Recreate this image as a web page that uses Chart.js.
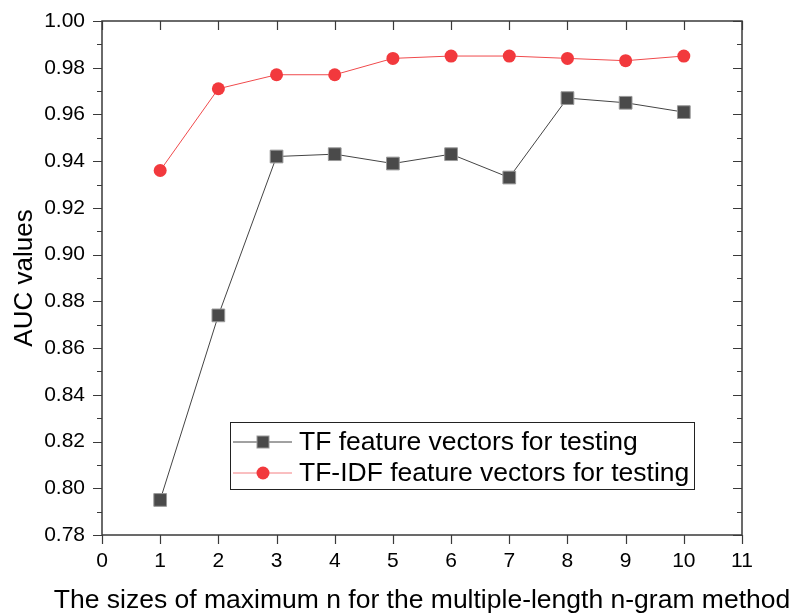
<!DOCTYPE html>
<html lang="en">
<head>
    <meta charset="UTF-8">
    <title>AUC values</title>
    <script src="https://cdn.jsdelivr.net/npm/chart.js"></script>
    <style>
        body { margin: 0; background: #fff; }
        #wrap { width: 795px; height: 616px; }
    </style>
</head>
<body>
    <div id="wrap"><canvas id="auc"></canvas></div>

    <script>
        // values
        var nSizes = [1, 2, 3, 4, 5, 6, 7, 8, 9, 10]
        var tfAuc = [0.795, 0.874, 0.942, 0.943, 0.939, 0.943, 0.933, 0.967, 0.965, 0.961]
        var tfidfAuc = [0.936, 0.971, 0.977, 0.977, 0.984, 0.985, 0.985, 0.984, 0.983, 0.985]
        var seriesNames = ['TF feature vectors for testing', 'TF-IDF feature vectors for testing']
        var xTitle = 'The sizes of maximum n for the multiple-length n-gram method'
        var xTicks = [0, 1, 2, 3, 4, 5, 6, 7, 8, 9, 10, 11]
        var yTicks = [0.78, 0.80, 0.82, 0.84, 0.86, 0.88, 0.90, 0.92, 0.94, 0.96, 0.98, 1.00]

        var FONT = '"Liberation Sans", Arial, sans-serif'

        // frame, inward/outward ticks, x title and the boxed legend, drawn Origin-style
        var framePlugin = {
            id: 'frame',
            afterDraw: function(chart) {
                var ctx = chart.ctx
                var xs = chart.scales.x, ys = chart.scales.y
                var a = chart.chartArea
                ctx.save()
                ctx.strokeStyle = '#3a3a3a'
                ctx.lineWidth = 1.5
                ctx.strokeRect(a.left, a.top, a.right - a.left, a.bottom - a.top)
                ctx.lineWidth = 1.2
                ctx.beginPath()
                xTicks.forEach(function(v) {
                    var px = Math.round(xs.getPixelForValue(v)) + 0.5
                    ctx.moveTo(px, a.bottom); ctx.lineTo(px, a.bottom + 9)
                    ctx.moveTo(px, a.top); ctx.lineTo(px, a.top + 9)
                })
                for (var i = 0; i < yTicks.length; i++) {
                    var v = yTicks[i]
                    var py = Math.round(ys.getPixelForValue(v)) + 0.5
                    ctx.moveTo(a.left, py); ctx.lineTo(a.left - 9, py)
                    ctx.moveTo(a.right, py); ctx.lineTo(a.right - 9, py)
                    if (i < yTicks.length - 1) {
                        var pm = Math.round(ys.getPixelForValue((v + yTicks[i + 1]) / 2)) + 0.5
                        ctx.moveTo(a.left, pm); ctx.lineTo(a.left - 5, pm)
                        ctx.moveTo(a.right, pm); ctx.lineTo(a.right - 5, pm)
                    }
                }
                ctx.stroke()

                // x title is wider than the plot, so it is drawn here unclipped
                ctx.fillStyle = '#000'
                ctx.font = '26.5px ' + FONT
                ctx.textAlign = 'center'
                ctx.textBaseline = 'middle'
                ctx.fillText(xTitle, 422, 601)

                // legend box
                var lx = 230, ly = 422, lw = 464, lh = 67
                ctx.fillStyle = '#fff'
                ctx.fillRect(lx, ly, lw, lh)
                ctx.strokeStyle = '#222'
                ctx.lineWidth = 1
                ctx.strokeRect(lx + 0.5, ly + 0.5, lw, lh)
                ctx.textAlign = 'left'
                chart.data.datasets.forEach(function(ds, k) {
                    var cy = ly + 20 + k * 31
                    ctx.strokeStyle = k === 0 ? '#444' : '#f47f81'
                    ctx.lineWidth = 1
                    ctx.beginPath(); ctx.moveTo(233, cy); ctx.lineTo(292, cy); ctx.stroke()
                    ctx.fillStyle = ds.pointBackgroundColor
                    ctx.strokeStyle = ds.pointBorderColor
                    if (ds.pointStyle === 'rect') {
                        ctx.fillRect(257, cy - 6, 12, 12)
                        ctx.strokeRect(257, cy - 6, 12, 12)
                    } else {
                        ctx.beginPath(); ctx.arc(263, cy, 6.5, 0, Math.PI * 2); ctx.fill()
                    }
                    ctx.fillStyle = '#000'
                    ctx.fillText(seriesNames[k], 299, cy + 1)
                })
                ctx.restore()
            }
        }

        var ctx = document.getElementById('auc').getContext('2d')
        var myChart = new Chart(ctx, {
            type: 'line',
            data: {
                labels: nSizes,
                datasets: [{
                    label: seriesNames[0],
                    data: nSizes.map(function(n, i) { return { x: n, y: tfAuc[i] } }),
                    borderColor: '#444',
                    borderWidth: 1,
                    pointStyle: 'rect',
                    pointRadius: 9,
                    pointBackgroundColor: '#4a4a4a',
                    pointBorderColor: '#999',
                    pointBorderWidth: 1
                }, {
                    label: seriesNames[1],
                    data: nSizes.map(function(n, i) { return { x: n, y: tfidfAuc[i] } }),
                    borderColor: '#f04a4c',
                    borderWidth: 1,
                    pointStyle: 'circle',
                    pointRadius: 6.5,
                    pointBackgroundColor: '#f2393d',
                    pointBorderColor: '#f2393d',
                    pointBorderWidth: 0
                }]
            },
            options: {
                responsive: true,
                maintainAspectRatio: false,
                animation: false,
                layout: { padding: { top: 21, right: 53, left: 0, bottom: 0 } },
                plugins: { legend: { display: false }, tooltip: { enabled: false } },
                scales: {
                    x: {
                        type: 'linear',
                        min: 0, max: 11,
                        afterFit: function(s) { s.height = 81; s.paddingLeft = 0; s.paddingRight = 0 },
                        afterBuildTicks: function(s) { s.ticks = xTicks.map(function(v) { return { value: v } }) },
                        grid: { display: false, drawTicks: false },
                        border: { display: false },
                        ticks: { color: '#000', font: { family: FONT, size: 21 }, padding: 14 }
                    },
                    y: {
                        min: 0.78, max: 1.0,
                        afterFit: function(s) { s.width = 102; s.paddingTop = 0; s.paddingBottom = 0 },
                        afterBuildTicks: function(s) { s.ticks = yTicks.map(function(v) { return { value: v } }) },
                        grid: { display: false, drawTicks: false },
                        border: { display: false },
                        ticks: { color: '#000', font: { family: FONT, size: 21 }, padding: 17,
                                 callback: function(v) { return v.toFixed(2) } },
                        title: { display: true, text: 'AUC values', color: '#000',
                                 font: { family: FONT, size: 26 }, padding: { top: 9, bottom: 0 } }
                    }
                }
            },
            plugins: [framePlugin]
        })
    </script>
</body>
</html>
